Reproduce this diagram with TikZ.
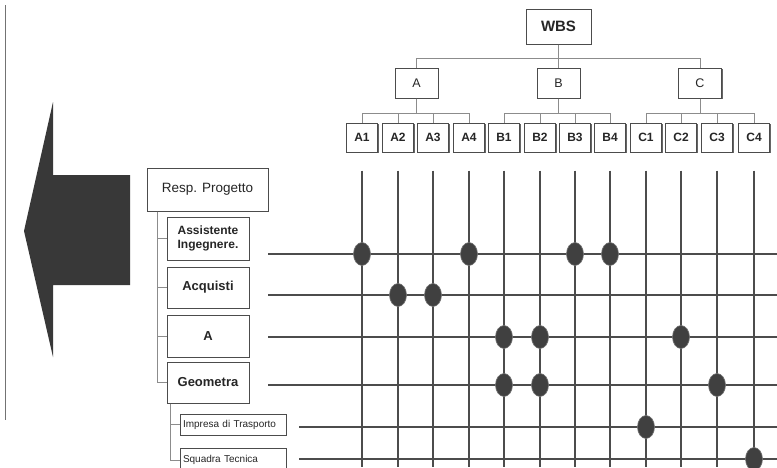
\documentclass[tikz,border=0pt]{standalone}
\usepackage{fontspec}
\setmainfont{Liberation Sans}
\usetikzlibrary{shapes.geometric,shadows}
\tikzset{
    box/.style={draw=black!70, line width=1pt, fill=white, inner sep=1pt, align=center, text=black!85,
        drop shadow={shadow xshift=1.3pt, shadow yshift=-1.3pt, fill=black!60, opacity=1}},
    link/.style={draw=black!45, line width=0.7pt},
    gridline/.style={draw=black!70, line width=1.3pt},
    spot/.style={ellipse, fill=black!75, draw=black!55, line width=0.6pt, minimum width=17pt, minimum height=23pt, inner sep=0pt},
}
\begin{document}
\begin{tikzpicture}[x=1pt, y=-1pt]
    \fill[white] (0,0) rectangle (777,467);
    \useasboundingbox (0,0) rectangle (777,467);

    \draw[black!55, line width=1pt] (5,5) -- (5,420);
    \fill[black!78] (130,175) -- (53,175) -- (53,102) -- (24,231) -- (53,357) -- (53,285) -- (130,285) -- cycle;

    % wbs
    \node[box, minimum width=65pt, minimum height=35pt, font=\fontsize{15}{17}\selectfont\bfseries] (wbs) at (558.5,26.5) {WBS};
    \foreach \n/\x in {A/416.5, B/558.5, C/700}
        \node[box, minimum width=43pt, minimum height=30pt, font=\fontsize{12.5}{14}\selectfont] (\n) at (\x,83) {\n};
    \foreach \n/\x in {A1/362, A2/398, A3/433, A4/469, B1/504, B2/540, B3/575, B4/610, C1/646, C2/681, C3/717, C4/754}
        \node[box, minimum width=31pt, minimum height=29pt, font=\fontsize{12}{14}\selectfont\bfseries] (\n) at (\x,137.5) {\n};

    \foreach \n in {A,B,C}
        \draw[link] (wbs.south) -- ++(0,14) -| (\n.north);
    \foreach \p/\n in {A/A1, A/A2, A/A3, A/A4, B/B1, B/B2, B/B3, B/B4, C/C1, C/C2, C/C3, C/C4}
        \draw[link] (\p.south) -- ++(0,15) -| (\n.north);

    % resources
    \node[box, minimum width=121pt, minimum height=43pt, font=\fontsize{13.5}{15}\selectfont] (resp) at (207.5,189.5) {Resp. Progetto};
    \node[box, minimum width=82pt, minimum height=43pt, font=\fontsize{12}{13.5}\selectfont\bfseries] (asst) at (208,238.5) {Assistente\\Ingegnere.};
    \node[box, minimum width=82pt, minimum height=41pt, font=\fontsize{13}{15}\selectfont\bfseries] (acq) at (208,287.5) {Acquisti};
    \node[box, minimum width=82pt, minimum height=42pt, font=\fontsize{13}{15}\selectfont\bfseries] (a) at (208,336) {A};
    \node[box, minimum width=82pt, minimum height=41pt, font=\fontsize{13}{15}\selectfont\bfseries] (geom) at (208,382.5) {Geometra};
    \node[box, inner xsep=3pt, text width=100pt, align=left, minimum height=21pt, font=\fontsize{10}{12}\selectfont] (imp) at (233,424.5) {Impresa di Trasporto};
    \node[box, inner xsep=3pt, text width=100pt, align=left, minimum height=24pt, font=\fontsize{10}{12}\selectfont] (sq) at (233,460) {Squadra Tecnica};

    \coordinate (t1) at ([xshift=11pt]resp.south west);
    \foreach \b in {asst, acq, a, geom}
        \draw[link] (t1) |- (\b.west);
    \coordinate (t2) at ([xshift=4pt]geom.south west);
    \foreach \b in {imp, sq}
        \draw[link] (t2) |- (\b.west);

    % matrix
    \coordinate (re) at (777,0);
    \coordinate (bot) at (0,467);
    \foreach \n in {A1,A2,A3,A4,B1,B2,B3,B4,C1,C2,C3,C4}
        \draw[gridline] ([yshift=-18pt]\n.south) -- (\n.south |- bot);
    \foreach \r/\x/\y in {r1/268/254, r2/268/295, r3/268/337, r4/268/385, r5/299/427, r6/299/459} {
        \coordinate (\r) at (\x,\y);
        \draw[gridline] (\r) -- (\r -| re);
    }
    \foreach \c/\r in {A1/r1, A4/r1, B3/r1, B4/r1, A2/r2, A3/r2, B1/r3, B2/r3, C2/r3, B1/r4, B2/r4, C3/r4, C1/r5, C4/r6}
        \node[spot] (d\c\r) at (\c |- \r) {};
\end{tikzpicture}
\end{document}
